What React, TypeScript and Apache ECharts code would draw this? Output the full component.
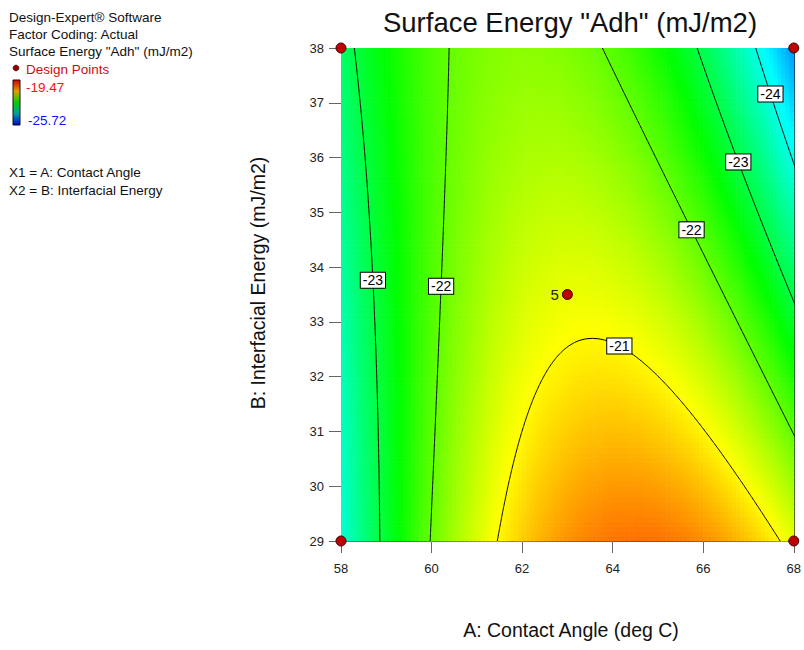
import React, { useEffect, useRef } from "react";
import * as echarts from "echarts";

// Factor ranges (actual units)
const factorA = [58, 68]; // A: Contact Angle
const factorB = [29, 38]; // B: Interfacial Energy
const xTicks = [58, 60, 62, 64, 66, 68];
const yTicks = [29, 30, 31, 32, 33, 34, 35, 36, 37, 38];

// Fitted quadratic model in coded units: intercept, A, B, AB, A^2, B^2
const modelCoef = [-21.158, 0.286, -0.729, -1.088, -2.18, 0.063];

// Response range (legend)
const responseRange = [-25.72, -19.47];

// Contour levels
const contourLevels = [-24, -23, -22, -21];

// Contour label placement: level, branch (0 = left root, 1 = right root), B value
const labelLevels = [-23, -22, -21, -22, -23, -24];
const labelBranches = [0, 0, 1, 1, 1, 1];
const labelB = [33.76, 33.65, 32.56, 34.68, 35.92, 37.16];

// Design points
const designA = [58, 58, 68, 68, 63];
const designB = [29, 38, 29, 38, 33.5];
const designLabel = ["", "", "", "", "5"];

const FONT = "'Liberation Sans', Arial, Helvetica, sans-serif";

const centerA = (factorA[0] + factorA[1]) / 2;
const halfA = (factorA[1] - factorA[0]) / 2;
const centerB = (factorB[0] + factorB[1]) / 2;
const halfB = (factorB[1] - factorB[0]) / 2;

function model(A: number, B: number) {
  const a = (A - centerA) / halfA;
  const b = (B - centerB) / halfB;
  const [b0, b1, b2, b12, b11, b22] = modelCoef;
  return b0 + b1 * a + b2 * b + b12 * a * b + b11 * a * a + b22 * b * b;
}

function rootsAt(B: number, level: number): [number, number] | null {
  const [b0, b1, b2, b12, b11, b22] = modelCoef;
  const b = (B - centerB) / halfB;
  const qa = b11;
  const qb = b1 + b12 * b;
  const qc = b0 + b2 * b + b22 * b * b - level;
  let disc = qb * qb - 4 * qa * qc;
  if (disc < 0 && disc > -1e-7) disc = 0;
  if (disc < 0) return null;
  const s = Math.sqrt(disc);
  const r1 = (-qb + s) / (2 * qa);
  const r2 = (-qb - s) / (2 * qa);
  const lo = Math.min(r1, r2);
  const hi = Math.max(r1, r2);
  return [centerA + halfA * lo, centerA + halfA * hi];
}

function apexBs(level: number): number[] {
  const [b0, b1, b2, b12, b11, b22] = modelCoef;
  const A2 = b12 * b12 - 4 * b11 * b22;
  const A1 = 2 * b1 * b12 - 4 * b11 * b2;
  const A0 = b1 * b1 - 4 * b11 * (b0 - level);
  const d = A1 * A1 - 4 * A2 * A0;
  if (d < 0) return [];
  const s = Math.sqrt(d);
  return [(-A1 + s) / (2 * A2), (-A1 - s) / (2 * A2)]
    .map((b) => centerB + halfB * b)
    .filter((B) => B >= factorB[0] && B <= factorB[1]);
}

function contourPolylines(level: number): number[][][] {
  const N = 400;
  const apex = apexBs(level);
  const Bs: number[] = [];
  for (let i = 0; i <= N; i++) Bs.push(factorB[0] + ((factorB[1] - factorB[0]) * i) / N);
  apex.forEach((B) => Bs.push(B));
  Bs.sort((p, q) => p - q);
  const out: number[][][] = [];
  let lo: number[][] = [];
  let hi: number[][] = [];
  let startApex = false;
  const isApex = (B: number) => apex.some((x) => Math.abs(x - B) < 1e-12);
  const flush = (endApex: boolean) => {
    if (lo.length > 1) {
      if (endApex && startApex) out.push([...lo, ...hi.slice().reverse(), lo[0]]);
      else if (endApex) out.push([...lo, ...hi.slice().reverse()]);
      else if (startApex) out.push([...lo.slice().reverse(), ...hi]);
      else {
        out.push(lo);
        out.push(hi);
      }
    }
    lo = [];
    hi = [];
  };
  let prevB: number | null = null;
  for (const B of Bs) {
    const r = rootsAt(B, level);
    if (r) {
      if (lo.length === 0) startApex = isApex(B);
      lo.push([r[0], B]);
      hi.push([r[1], B]);
      prevB = B;
    } else if (lo.length) {
      flush(prevB !== null && isApex(prevB));
    }
  }
  if (lo.length) flush(false);
  return out;
}

export default function App() {
  const ref = useRef<HTMLDivElement>(null);
  useEffect(() => {
    if (!ref.current) return;
    const chart = echarts.init(ref.current, undefined, { renderer: "svg" });

    const nx = 110;
    const ny = 100;
    const dA = (factorA[1] - factorA[0]) / nx;
    const dB = (factorB[1] - factorB[0]) / ny;
    const cells: number[][] = [];
    for (let i = 0; i < nx; i++) {
      for (let j = 0; j < ny; j++) {
        const A = factorA[0] + (i + 0.5) * dA;
        const B = factorB[0] + (j + 0.5) * dB;
        cells.push([A, B, model(A, B)]);
      }
    }

    const lineSeries: any[] = [];
    contourLevels.forEach((lv) => {
      contourPolylines(lv).forEach((pl) => {
        lineSeries.push({
          type: "line",
          data: pl,
          showSymbol: false,
          symbol: "none",
          clip: true,
          silent: true,
          lineStyle: { color: "#000", width: 1 },
          z: 3,
        });
      });
    });

    const labelData = labelLevels.map((lv, k) => {
      const r = rootsAt(labelB[k], lv);
      const A = r ? r[labelBranches[k]] : factorA[0];
      return [A, labelB[k], lv];
    });

    const textStyle = (size: number, fill: string) => ({ font: `${size}px ${FONT}`, fill, textVerticalAlign: "middle" });

    const option: any = {
      animation: false,
      grid: { left: 341, right: 5, top: 48, bottom: 109 },
      visualMap: {
        type: "continuous",
        show: false,
        min: responseRange[0],
        max: responseRange[1],
        dimension: 2,
        seriesIndex: 0,
        inRange: { color: ["#0000ff", "#00ffff", "#00ff00", "#ffff00", "#ff0000"] },
      },
      xAxis: [
        {
          type: "value",
          min: factorA[0],
          max: factorA[1],
          interval: 2,
          axisLine: { show: true, onZero: false, lineStyle: { color: "#111", width: 1 } },
          axisTick: { show: true, inside: false, length: 12, lineStyle: { color: "#666", width: 1 } },
          axisLabel: {
            fontSize: 13,
            color: "#222",
            fontFamily: FONT,
            margin: 21,
            formatter: (v: number) => (xTicks.includes(v) ? String(v) : ""),
          },
          splitLine: { show: false },
        },
        {
          type: "value",
          position: "top",
          min: factorA[0],
          max: factorA[1],
          axisLine: { show: true, onZero: false, lineStyle: { color: "#111", width: 1 } },
          axisTick: { show: false },
          axisLabel: { show: false },
          splitLine: { show: false },
        },
      ],
      yAxis: [
        {
          type: "value",
          min: factorB[0],
          max: factorB[1],
          interval: 1,
          axisLine: { show: true, onZero: false, lineStyle: { color: "#111", width: 1 } },
          axisTick: { show: true, inside: false, length: 12, lineStyle: { color: "#666", width: 1 } },
          axisLabel: {
            fontSize: 13,
            color: "#222",
            fontFamily: FONT,
            margin: 17,
            formatter: (v: number) => (yTicks.includes(v) ? String(v) : ""),
          },
          splitLine: { show: false },
        },
        {
          type: "value",
          position: "right",
          min: factorB[0],
          max: factorB[1],
          axisLine: { show: true, onZero: false, lineStyle: { color: "#111", width: 1 } },
          axisTick: { show: false },
          axisLabel: { show: false },
          splitLine: { show: false },
        },
      ],
      series: [
        {
          type: "custom",
          data: cells,
          clip: true,
          silent: true,
          z: 1,
          encode: { x: 0, y: 1 },
          renderItem: (params: any, api: any) => {
            const A = api.value(0);
            const B = api.value(1);
            const p1 = api.coord([A - dA / 2, B + dB / 2]);
            const p2 = api.coord([A + dA / 2, B - dB / 2]);
            return {
              type: "rect",
              shape: { x: p1[0], y: p1[1], width: p2[0] - p1[0] + 0.6, height: p2[1] - p1[1] + 0.6 },
              style: { fill: api.visual("color") },
            };
          },
        },
        ...lineSeries,
        {
          type: "scatter",
          data: labelData,
          symbolSize: 0,
          silent: true,
          z: 5,
          itemStyle: { opacity: 1 },
          label: {
            show: true,
            position: "inside",
            formatter: (p: any) => String(p.value[2]),
            fontSize: 14,
            fontFamily: FONT,
            color: "#000",
            opacity: 1,
            backgroundColor: "#ffffff",
            borderColor: "#000",
            borderWidth: 1,
            padding: [1, 2, 0, 2],
          },
        },
        {
          type: "scatter",
          data: designA.map((a, k) => ({
            value: [a, designB[k]],
            label: {
              show: designLabel[k] !== "",
              formatter: designLabel[k],
              position: "left",
              distance: 3,
              fontSize: 15,
              fontFamily: FONT,
              color: "#222",
            },
          })),
          symbol: "circle",
          symbolSize: 10,
          clip: false,
          silent: true,
          z: 6,
          itemStyle: { color: "#c00000", borderColor: "#3a0000", borderWidth: 1, opacity: 1 },
        },
      ],
      graphic: [
        {
          type: "text",
          x: 570,
          y: 22,
          style: {
            text: 'Surface Energy "Adh" (mJ/m2)',
            font: `27.5px ${FONT}`,
            fill: "#111",
            textAlign: "center",
            textVerticalAlign: "middle",
          },
        },
        {
          type: "text",
          x: 571,
          y: 630,
          style: {
            text: "A: Contact Angle (deg C)",
            font: `19.5px ${FONT}`,
            fill: "#111",
            textAlign: "center",
            textVerticalAlign: "middle",
          },
        },
        {
          type: "text",
          x: 258,
          y: 283,
          rotation: Math.PI / 2,
          style: {
            text: "B: Interfacial Energy (mJ/m2)",
            font: `19.5px ${FONT}`,
            fill: "#111",
            textAlign: "center",
            textVerticalAlign: "middle",
          },
        },
        { type: "text", x: 9, y: 17, style: { ...textStyle(13.5, "#111"), text: "Design-Expert® Software" } },
        { type: "text", x: 9, y: 34, style: { ...textStyle(13.5, "#111"), text: "Factor Coding: Actual" } },
        { type: "text", x: 9, y: 51, style: { ...textStyle(13.5, "#111"), text: 'Surface Energy "Adh" (mJ/m2)' } },
        { type: "circle", shape: { cx: 16, cy: 68, r: 3 }, style: { fill: "#8b0000", stroke: "#3a0000", lineWidth: 0.5 } },
        { type: "text", x: 26, y: 69, style: { ...textStyle(13.5, "#cc1010"), text: "Design Points" } },
        {
          type: "rect",
          shape: { x: 13, y: 80, width: 7, height: 45 },
          style: {
            stroke: "#111",
            lineWidth: 1,
            fill: new echarts.graphic.LinearGradient(0, 0, 0, 1, [
              { offset: 0, color: "#d00000" },
              { offset: 0.25, color: "#e0a000" },
              { offset: 0.5, color: "#00d000" },
              { offset: 0.75, color: "#00a0a0" },
              { offset: 1, color: "#0000e0" },
            ]),
          },
        },
        { type: "text", x: 26, y: 87, style: { ...textStyle(13.5, "#ff1010"), text: String(responseRange[1]) } },
        { type: "text", x: 28, y: 120, style: { ...textStyle(13.5, "#1010ff"), text: String(responseRange[0]) } },
        { type: "text", x: 9, y: 172, style: { ...textStyle(13.5, "#111"), text: "X1 = A: Contact Angle" } },
        { type: "text", x: 9, y: 190, style: { ...textStyle(13.5, "#111"), text: "X2 = B: Interfacial Energy" } },
      ],
    };
    chart.setOption(option);
    return () => chart.dispose();
  }, []);
  return <div ref={ref} style={{ position: "fixed", left: 0, top: 0, width: 804, height: 650, background: "#fff" }} />;
}
